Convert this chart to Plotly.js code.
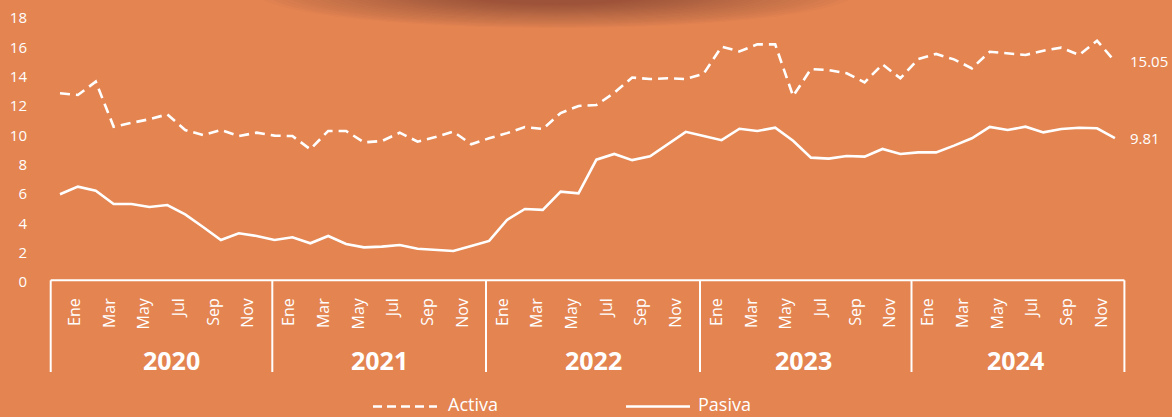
<!DOCTYPE html>
<html>
<head>
<meta charset="utf-8">
<script src="https://cdn.plot.ly/plotly-3.0.1.min.js"></script>
<style>html,body{margin:0;padding:0;background:#E38451;}</style>
</head>
<body>
<div id="chart" style="width:1172px;height:417px;"></div>
<script>
// ---- data ----
const months = [
  '2020-01','2020-02','2020-03','2020-04','2020-05','2020-06','2020-07','2020-08','2020-09','2020-10','2020-11','2020-12',
  '2021-01','2021-02','2021-03','2021-04','2021-05','2021-06','2021-07','2021-08','2021-09','2021-10','2021-11','2021-12',
  '2022-01','2022-02','2022-03','2022-04','2022-05','2022-06','2022-07','2022-08','2022-09','2022-10','2022-11','2022-12',
  '2023-01','2023-02','2023-03','2023-04','2023-05','2023-06','2023-07','2023-08','2023-09','2023-10','2023-11','2023-12',
  '2024-01','2024-02','2024-03','2024-04','2024-05','2024-06','2024-07','2024-08','2024-09','2024-10','2024-11','2024-12'
];
const activa = [
  12.87,12.75,13.66,10.59,10.85,11.10,11.43,10.36,10.02,10.36,9.95,10.18,
  9.98,9.95,9.05,10.30,10.30,9.52,9.61,10.18,9.57,9.88,10.25,9.39,
  9.80,10.15,10.57,10.43,11.52,12.00,12.07,12.90,13.94,13.84,13.89,13.84,
  14.20,16.04,15.72,16.20,16.20,12.68,14.52,14.45,14.23,13.61,14.84,13.89,
  15.20,15.55,15.18,14.57,15.70,15.59,15.48,15.77,15.98,15.48,16.45,15.05
];
const pasiva = [
  5.98,6.50,6.23,5.32,5.32,5.11,5.25,4.61,3.75,2.86,3.32,3.14,
  2.86,3.05,2.64,3.14,2.59,2.36,2.41,2.52,2.27,2.18,2.11,2.45,
  2.80,4.23,4.98,4.92,6.16,6.05,8.34,8.73,8.31,8.57,9.40,10.24,
  9.95,9.67,10.45,10.30,10.52,9.63,8.48,8.41,8.59,8.55,9.07,8.73,
  8.84,8.84,9.30,9.80,10.57,10.36,10.59,10.20,10.43,10.52,10.48,9.81
];
const seriesNames = ['Activa','Pasiva'];
const years = ['2020','2021','2022','2023','2024'];
const monthLabels = ['Ene','Mar','May','Jul','Sep','Nov'];
const yTicks = [0,2,4,6,8,10,12,14,16,18];

// ---- layout geometry (pixels) ----
const W = 1172, H = 417;
const PL = 40, PR = 1140, PT = 18, PB = 282;
const X0PX = 60, STEP = 17.88;           // pixel of first month, pixels per month
const xIdx = px => (px - X0PX) / STEP;   // pixel -> x data coordinate
const xp = px => (px - PL) / (PR - PL);  // pixel -> paper x
const yp = py => (PB - py) / (PB - PT);  // pixel -> paper y
const WHITE = '#ffffff';
const FONT = '"Open Sans", "Noto Sans", sans-serif';

const xi = months.map((m, i) => i);

// month tick positions
const eneStart = [74.7, 289, 502.5, 716.7, 928];
const tickvals = [], ticktext = [];
years.forEach((y, k) => {
  monthLabels.forEach((m, j) => {
    tickvals.push(xIdx(eneStart[k] + 34.7 * j));
    ticktext.push(m);
  });
});

const traces = [
  {x: xi, y: activa, name: seriesNames[0], mode: 'lines', hoverinfo: 'skip',
   line: {color: WHITE, width: 2.6, dash: '10px,6px'}, showlegend: false},
  {x: xi, y: pasiva, name: seriesNames[1], mode: 'lines', hoverinfo: 'skip',
   line: {color: WHITE, width: 2.6}, showlegend: false}
];

const shapes = [];
// soft shadow at top (many faint layers for a smooth blur)
const NL = 24;
for (let k = 0; k < NL; k++) {
  const f = k / (NL - 1);
  const rx = 300 - 210 * f, ry = 36 - 24 * f, cx = 556, cy = -8;
  shapes.push({type: 'circle', xref: 'paper', yref: 'paper', layer: 'below',
    x0: xp(cx - rx), x1: xp(cx + rx), y0: yp(cy + ry), y1: yp(cy - ry),
    fillcolor: 'rgba(105,50,22,0.024)', line: {width: 0}});
}
// category frame
const bounds = [50.7, 272.3, 486, 700, 911.5, 1124.4];
const frameTop = 280.3, frameBottom = 372;
shapes.push({type: 'line', xref: 'paper', yref: 'paper',
  x0: xp(bounds[0]), x1: xp(bounds[bounds.length - 1]), y0: yp(frameTop), y1: yp(frameTop),
  line: {color: WHITE, width: 2}});
bounds.forEach(b => shapes.push({type: 'line', xref: 'paper', yref: 'paper',
  x0: xp(b), x1: xp(b), y0: yp(frameTop), y1: yp(frameBottom), line: {color: WHITE, width: 2}}));
// legend samples
const legY = 406.5;
shapes.push({type: 'line', xref: 'paper', yref: 'paper', x0: xp(373), x1: xp(437), y0: yp(legY), y1: yp(legY),
  line: {color: WHITE, width: 2.6, dash: '9px,5px'}});
shapes.push({type: 'line', xref: 'paper', yref: 'paper', x0: xp(626), x1: xp(690), y0: yp(legY), y1: yp(legY),
  line: {color: WHITE, width: 2.6}});

const annotations = [];
const yearCenters = [171, 379, 593, 803, 1015];
years.forEach((y, k) => annotations.push({
  xref: 'paper', yref: 'paper', x: xp(yearCenters[k]), y: yp(360), text: '<b>' + y + '</b>',
  showarrow: false, xanchor: 'center', yanchor: 'middle',
  font: {family: FONT, size: 25, color: WHITE}}));
// legend labels
[[447, seriesNames[0]], [697, seriesNames[1]]].forEach(([px, t]) => annotations.push({
  xref: 'paper', yref: 'paper', x: xp(px), y: yp(404.5), text: t, showarrow: false, borderpad: 0,
  xanchor: 'left', yanchor: 'middle', font: {family: FONT, size: 18, color: WHITE}}));
// end labels
const last = xi.length - 1;
[activa, pasiva].forEach(s => annotations.push({
  x: xi[last], y: s[last], xref: 'x', yref: 'y', text: s[last].toFixed(2), showarrow: false,
  xanchor: 'left', yanchor: 'middle', xshift: 13, font: {family: FONT, size: 15, color: WHITE}}));

const layout = {
  width: W, height: H,
  margin: {l: PL, r: W - PR, t: PT, b: H - PB, pad: 0},
  paper_bgcolor: '#E38451', plot_bgcolor: '#E38451',
  font: {family: FONT, color: WHITE},
  showlegend: false,
  xaxis: {range: [xIdx(PL), xIdx(PR)], showgrid: false, zeroline: false, showline: false,
    tickmode: 'array', tickvals: tickvals, ticktext: ticktext, tickangle: -90, ticks: '',
    ticklabelstandoff: 12, tickfont: {family: FONT, size: 16, color: WHITE}, fixedrange: true},
  yaxis: {range: [0, 18], showgrid: false, zeroline: false, showline: false,
    tickmode: 'array', tickvals: yTicks, ticks: '', ticklabelstandoff: 12,
    tickfont: {family: FONT, size: 15, color: WHITE}, fixedrange: true},
  shapes: shapes,
  annotations: annotations
};

Plotly.newPlot('chart', traces, layout, {displayModeBar: false, staticPlot: true});
</script>
</body>
</html>
